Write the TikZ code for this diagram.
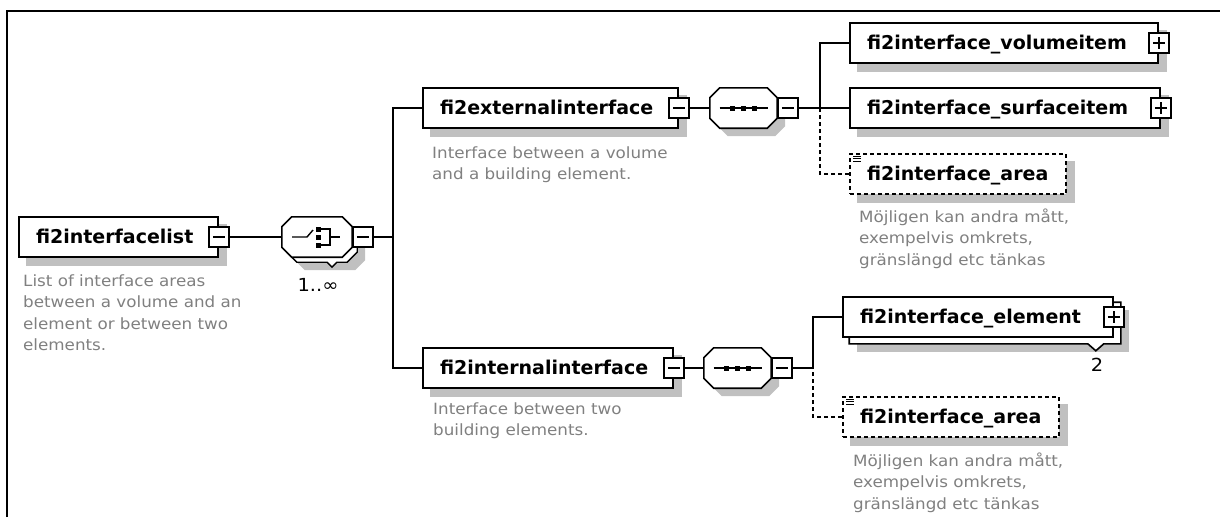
\documentclass[tikz,border=0pt]{standalone}
\usepackage{fontspec}
\setmainfont{DejaVu Sans}
\newfontfamily\lblfont[FakeStretch=1.0]{DejaVu Sans}
\newfontfamily\descfont[FakeStretch=1.08]{DejaVu Sans}
\usetikzlibrary{calc,backgrounds}
\pgfdeclarelayer{behind}
\pgfsetlayers{background,behind,main}
\definecolor{shadowc}{RGB}{192,192,192}
\definecolor{descc}{RGB}{128,128,128}
\newcommand{\octa}[4]{%
  \path[#4] ($(#1.north west)+(#2+10,#3)$) -- ($(#1.north east)+(#2-10,#3)$)
   -- ($(#1.north east)+(#2,#3+10)$) -- ($(#1.south east)+(#2,#3-10)$)
   -- ($(#1.south east)+(#2-10,#3)$) -- ($(#1.south west)+(#2+10,#3)$)
   -- ($(#1.south west)+(#2,#3-10)$) -- ($(#1.north west)+(#2,#3+10)$) -- cycle;}
\newcommand{\shrect}[3]{%
  \fill[shadowc] ($(#1.north west)+(#2,#3)$) rectangle ($(#1.south east)+(#2,#3)$);}
\begin{document}
\begin{tikzpicture}[x=1pt,y=-1pt,
  elem/.style={draw, fill=white, line width=1.6pt, minimum height=40pt,
    inner xsep=17pt, inner ysep=0pt, align=left, text height=13.5pt, text depth=0pt,
    font=\lblfont\bfseries\fontsize{19}{21}\selectfont},
  areab/.style={elem, dash pattern=on 4pt off 3pt},
  comp/.style={rectangle, draw=none, minimum height=40pt, inner sep=0pt},
  octline/.style={draw, fill=white, line width=1.6pt},
  pm/.style={draw, fill=white, line width=1.4pt, minimum width=20pt,
    minimum height=20pt, inner sep=0pt},
  minusb/.style={pm, path picture={\draw[line width=1.4pt]
    ([xshift=4pt]path picture bounding box.west) -- ([xshift=-4pt]path picture bounding box.east);}},
  plusb/.style={pm, path picture={\draw[line width=1.4pt]
    ([xshift=4pt]path picture bounding box.west) -- ([xshift=-4pt]path picture bounding box.east)
    ([yshift=-4pt]path picture bounding box.north) -- ([yshift=4pt]path picture bounding box.south);}},
  conn/.style={line width=1.5pt},
  dsh/.style={line width=1.5pt, dash pattern=on 4pt off 3pt},
  desc/.style={font=\descfont\fontsize{15.5}{21.5}\selectfont, text=descc,
    align=left, inner sep=0pt, anchor=north west},
  mult/.style={font=\descfont\fontsize{18}{20}\selectfont, inner sep=0pt},
  sym/.style={line width=1.4pt}
]
\useasboundingbox (0,0) rectangle (1220,517);
% frame
\draw[line width=2.2pt] (7,517) -- (7,11) -- (1220,11);

% ---- root
\node[elem, text width=165pt] (list) at (118.5,237) {fi2interfacelist};
\node[minusb] (listpm) at (list.east) {};
\node[desc] (listd) at (23,271) {\strut List of interface areas\\between a volume and an\\element or between two\\elements.};

% ---- choice compositor
\node[comp, minimum width=70pt] (choice) at (317,237) {};
\begin{pgfonlayer}{behind}
\draw[line width=1.4pt, fill=white] ($(choice.north west)+(15,5)$) -- ($(choice.north east)+(-5,5)$)
  -- ($(choice.north east)+(5,15)$) -- ($(choice.south east)+(5,-5)$)
  -- ($(choice.south east)+(-5,5)$) -- ($(choice.south)+(20,5)$) -- ($(choice.south)+(15,10)$)
  -- ($(choice.south)+(10,5)$) -- ($(choice.south west)+(15,5)$) -- ($(choice.south west)+(5,-5)$) -- cycle;
\end{pgfonlayer}
\octa{choice}{0}{0}{octline}
\draw[sym] ($(choice.center)+(-25,0)$) -- ($(choice.center)+(-10,0)$) -- ($(choice.center)+(-4,-7)$);
\fill ($(choice.center)+(-1,-10.5)$) rectangle ++(5,5);
\fill ($(choice.center)+(-1,-2.5)$) rectangle ++(5,5);
\fill ($(choice.center)+(-1,5.5)$) rectangle ++(5,5);
\draw[sym] ($(choice.center)+(4,-8)$) -- ($(choice.center)+(13,-8)$) -- ($(choice.center)+(13,8)$) -- ($(choice.center)+(4,8)$);
\draw[sym] ($(choice.center)+(13,0)$) -- ($(choice.center)+(23,0)$);
\node[minusb, anchor=west] (choicepm) at (choice.east) {};
\node[mult] (choicem) at (318,285) {1..∞};

\coordinate (j1) at (393,237);

% ---- external interface
\node[elem, text width=221pt] (ext) at (550.5,108) {fi2externalinterface};
\node[minusb] (extpm) at (ext.east) {};
\node[desc] (extd) at (432,143) {\strut Interface between a volume\\and a building element.};
\node[comp, minimum width=67pt] (extseq) at (743.5,108) {};
\octa{extseq}{0}{0}{octline}
\draw[sym] ($(extseq.center)+(-24,0)$) -- ($(extseq.center)+(24,0)$);
\foreach \dx in {-11,0,11} \fill ($(extseq.center)+(\dx-2.5,-2.5)$) rectangle ++(5,5);
\node[minusb, anchor=west] (extseqpm) at (extseq.east) {};
\coordinate (j2) at (820,108);

\node[elem, text width=274pt] (vol) at (1004,43) {fi2interface\_volumeitem};
\node[plusb] (volpm) at (vol.east) {};
\node[elem, text width=276pt] (surf) at (1005,108) {fi2interface\_surfaceitem};
\node[plusb] (surfpm) at (surf.east) {};
\node[areab, text width=182pt] (area1) at (958,174) {fi2interface\_area};
\node[desc] (area1d) at (859,207) {\strut Möjligen kan andra mått,\\exempelvis omkrets,\\gränslängd etc tänkas};

% ---- internal interface
\node[elem, text width=216pt] (int) at (548,368) {fi2internalinterface};
\node[minusb] (intpm) at (int.east) {};
\node[desc] (intd) at (433,399) {\strut Interface between two\\building elements.};
\node[comp, minimum width=67pt] (intseq) at (737.5,368) {};
\octa{intseq}{0}{0}{octline}
\draw[sym] ($(intseq.center)+(-24,0)$) -- ($(intseq.center)+(24,0)$);
\foreach \dx in {-11,0,11} \fill ($(intseq.center)+(\dx-2.5,-2.5)$) rectangle ++(5,5);
\node[minusb, anchor=west] (intseqpm) at (intseq.east) {};
\coordinate (j3) at (813,368);

\node[elem, text width=236pt] (elem) at (978,317) {fi2interface\_element};
\begin{pgfonlayer}{behind}
\draw[line width=1.6pt, fill=white] ($(elem.north west)+(7,6)$) -- ($(elem.north east)+(7,6)$)
  -- ($(elem.south east)+(7,6)$) -- ($(elem.south east)+(-10,6)$) -- ($(elem.south east)+(-18,13)$)
  -- ($(elem.south east)+(-26,6)$) -- ($(elem.south west)+(7,6)$) -- cycle;
\end{pgfonlayer}
\node[plusb] (elempm) at (elem.east) {};
\node[mult] (elemm) at (1097,365) {2};
\node[areab, text width=182pt] (area2) at (951,417) {fi2interface\_area};
\node[desc] (area2d) at (853,451) {\strut Möjligen kan andra mått,\\exempelvis omkrets,\\gränslängd etc tänkas};

% area icons
\foreach \n in {area1,area2}{
  \fill[white] ($(\n.north west)+(2,2)$) rectangle ++(12,9);
  \foreach \dy in {3,5.5,8} \draw[line width=0.9pt] ($(\n.north west)+(4,\dy)$) -- ++(8,0);
}

% ---- shadows
\begin{scope}[on background layer]
\foreach \n in {list,ext,int,vol,surf,area1,area2} {\shrect{\n}{8}{8}}
\shrect{elem}{15}{14}
\octa{choice}{13}{13}{fill=shadowc}
\octa{extseq}{8}{8}{fill=shadowc}
\octa{intseq}{8}{8}{fill=shadowc}
\end{scope}

% ---- connectors
\draw[conn] (listpm.east) -- (choice.west);
\draw[conn] (choicepm.east) -- (j1);
\draw[conn] (ext.west) -| (j1);
\draw[conn] (int.west) -| (j1);
\draw[conn] (extpm.east) -- (extseq.west);
\draw[conn] (extseqpm.east) -- (j2);
\draw[conn] (vol.west) -| (j2);
\draw[conn] (surf.west) -- (j2);
\draw[dsh] (area1.west) -| (j2);
\draw[conn] (intpm.east) -- (intseq.west);
\draw[conn] (intseqpm.east) -- (j3);
\draw[conn] (elem.west) -| (j3);
\draw[dsh] (area2.west) -| (j3);
\end{tikzpicture}
\end{document}
